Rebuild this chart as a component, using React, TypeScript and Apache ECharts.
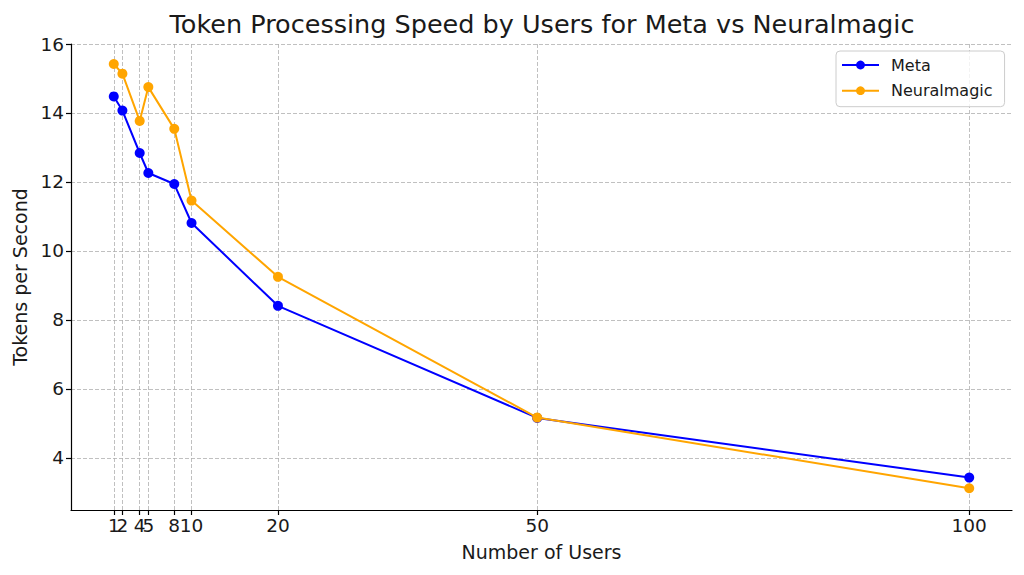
import React, { useEffect, useRef } from "react";
import * as echarts from "echarts";

const users = [1, 2, 4, 5, 8, 10, 20, 50, 100];
const metaSpeed = [14.48, 14.07, 12.84, 12.26, 11.94, 10.81, 8.41, 5.16, 3.43];
const neuralSpeed = [15.42, 15.14, 13.77, 14.75, 13.54, 11.46, 9.25, 5.17, 3.12];
const yTicks = [4, 6, 8, 10, 12, 14, 16];
const seriesNames = ["Meta", "Neuralmagic"];
const titleText = "Token Processing Speed by Users for Meta vs Neuralmagic";

const FONT = "DejaVu Sans";

export default function App() {
  const ref = useRef<HTMLDivElement>(null);
  useEffect(() => {
    if (!ref.current) return;
    const chart = echarts.init(ref.current, null, { renderer: "svg" });
    const gridLine = {
      show: true,
      lineStyle: { color: "#b0b0b0", width: 0.8, type: [4, 2] as any },
    };
    const evenUsers = users.filter((_, i) => i % 2 === 0);
    const oddUsers = users.filter((_, i) => i % 2 === 1);
    const xLabelBase = {
      fontFamily: FONT,
      fontSize: 18.5,
      color: "#1a1a1a",
      margin: 6,
      hideOverlap: false,
      showMinLabel: true,
      showMaxLabel: true,
    };
    const option: any = {
      animation: false,
      backgroundColor: "#ffffff",
      textStyle: { fontFamily: FONT },
      graphic: [
        {
          type: "text",
          x: 542,
          y: 24,
          style: {
            text: titleText,
            fontFamily: FONT,
            fontSize: 25.5,
            fill: "#1a1a1a",
            textAlign: "center",
            textVerticalAlign: "middle",
          },
        },
      ],
      grid: { left: 71, right: 12, top: 44, bottom: 65, containLabel: false },
      legend: {
        orient: "vertical",
        left: 836,
        top: 51,
        width: 168,
        padding: [6, 12, 8, 5],
        itemWidth: 37,
        itemHeight: 11,
        itemGap: 9.7,
        backgroundColor: "rgba(255,255,255,0.8)",
        borderColor: "#cccccc",
        borderWidth: 1,
        borderRadius: 4,
        textStyle: {
          fontFamily: FONT,
          fontSize: 16,
          color: "#1a1a1a",
          padding: [0, 0, 0, 7],
        },
        data: seriesNames,
      },
      xAxis: [
        {
          type: "value",
          min: -3.95,
          max: 104.95,
          name: "Number of Users",
          nameLocation: "middle",
          nameGap: 32,
          nameTextStyle: { fontFamily: FONT, fontSize: 19, color: "#1a1a1a" },
          axisLine: { show: true, onZero: false, lineStyle: { color: "#000", width: 1.2 } },
          axisTick: {
            show: true,
            length: 5,
            inside: false,
            customValues: users,
            lineStyle: { color: "#000", width: 1.2 },
          },
          axisLabel: { ...xLabelBase, customValues: evenUsers },
          splitLine: gridLine,
        },
        {
          type: "value",
          position: "bottom",
          min: -3.95,
          max: 104.95,
          axisLine: { show: false, onZero: false },
          axisTick: { show: false, customValues: oddUsers },
          axisLabel: { ...xLabelBase, customValues: oddUsers },
          splitLine: { show: false },
        },
      ],
      yAxis: {
        type: "value",
        min: 2.49,
        max: 16.0,
        name: "Tokens per Second",
        nameLocation: "middle",
        nameGap: 38,
        nameTextStyle: { fontFamily: FONT, fontSize: 19, color: "#1a1a1a" },
        axisLine: { show: true, onZero: false, lineStyle: { color: "#000", width: 1.2 } },
        axisTick: {
          show: true,
          length: 5,
          inside: false,
          customValues: yTicks,
          lineStyle: { color: "#000", width: 1.2 },
        },
        axisLabel: {
          customValues: yTicks,
          fontFamily: FONT,
          fontSize: 18.5,
          color: "#1a1a1a",
          margin: 7,
          showMinLabel: true,
          showMaxLabel: true,
        },
        splitLine: gridLine,
      },
      series: [
        {
          name: seriesNames[0],
          type: "line",
          xAxisIndex: 0,
          data: users.map((u, i) => [u, metaSpeed[i]]),
          symbol: "circle",
          symbolSize: 10,
          lineStyle: { color: "#0000ff", width: 2 },
          itemStyle: { color: "#0000ff" },
          z: 3,
        },
        {
          name: seriesNames[1],
          type: "line",
          xAxisIndex: 0,
          data: users.map((u, i) => [u, neuralSpeed[i]]),
          symbol: "circle",
          symbolSize: 10,
          lineStyle: { color: "#ffa500", width: 2 },
          itemStyle: { color: "#ffa500" },
          z: 4,
        },
      ],
    };
    chart.setOption(option);
    return () => chart.dispose();
  }, []);
  return (
    <div
      ref={ref}
      style={{ position: "absolute", left: 0, top: 0, width: 1024, height: 575 }}
    />
  );
}
